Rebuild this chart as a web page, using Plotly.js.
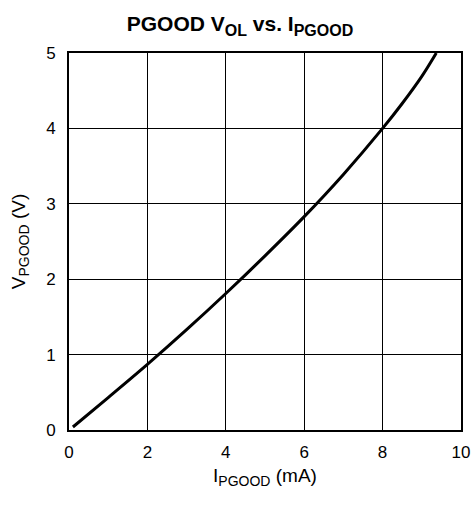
<!DOCTYPE html>
<html>
<head>
<meta charset="utf-8">
<script src="https://cdn.plot.ly/plotly-3.0.1.min.js"></script>
<style>html,body{margin:0;padding:0;background:#fff;}#chart{width:475px;height:505px;}</style>
</head>
<body>
<div id="chart"></div>
<script>
const currentMA = [0.1, 1, 2, 3, 4, 5, 6, 7, 8, 8.5, 9, 9.37];
const voltageV  = [0.04, 0.43, 0.87, 1.33, 1.81, 2.31, 2.83, 3.39, 4.0, 4.33, 4.69, 5.0];
const xTicks = [0, 2, 4, 6, 8, 10];
const yTicks = [0, 1, 2, 3, 4, 5];

const fam = 'Liberation Sans, Arial, sans-serif';
const tickFont = {family: fam, color: '#000', size: 17};
const axFont = {family: fam, color: '#000', size: 19};

Plotly.newPlot('chart', [{
  x: currentMA, y: voltageV, mode: 'lines', type: 'scatter',
  line: {color: '#000', width: 3, shape: 'spline', smoothing: 1},
  hoverinfo: 'skip'
}], {
  width: 475, height: 505,
  margin: {l: 69, r: 14, t: 53, b: 75},
  paper_bgcolor: '#fff', plot_bgcolor: '#fff',
  showlegend: false,
  font: tickFont,
  title: {
    text: '<b>PGOOD V<sub><span style="font-size:16px">OL</span></sub> vs. I<sub><span style="font-size:16px">PGOOD</span></sub></b>',
    font: {family: fam, size: 21, color: '#000'},
    x: 240/475, xanchor: 'center', xref: 'container',
    y: 1 - 24/505, yanchor: 'middle', yref: 'container'
  },
  xaxis: {
    range: [0, 10], tickvals: xTicks, ticktext: xTicks.map(String),
    showgrid: true, gridcolor: '#000', gridwidth: 1,
    showline: true, linecolor: '#000', linewidth: 2, mirror: true,
    zeroline: false, ticks: '', ticklabelstandoff: 6,
    tickfont: tickFont,
    title: {text: 'I<sub><span style="font-size:14px">PGOOD</span></sub> (mA)', font: axFont, standoff: 7}
  },
  yaxis: {
    range: [0, 5], tickvals: yTicks, ticktext: yTicks.map(String),
    showgrid: true, gridcolor: '#000', gridwidth: 1,
    showline: true, linecolor: '#000', linewidth: 2, mirror: true,
    zeroline: false, ticks: '', ticklabelstandoff: 8,
    tickfont: tickFont,
    title: {text: 'V<sub><span style="font-size:14px">PGOOD</span></sub> (V)', font: axFont, standoff: 15}
  }
}, {displayModeBar: false, staticPlot: true});
</script>
</body>
</html>
